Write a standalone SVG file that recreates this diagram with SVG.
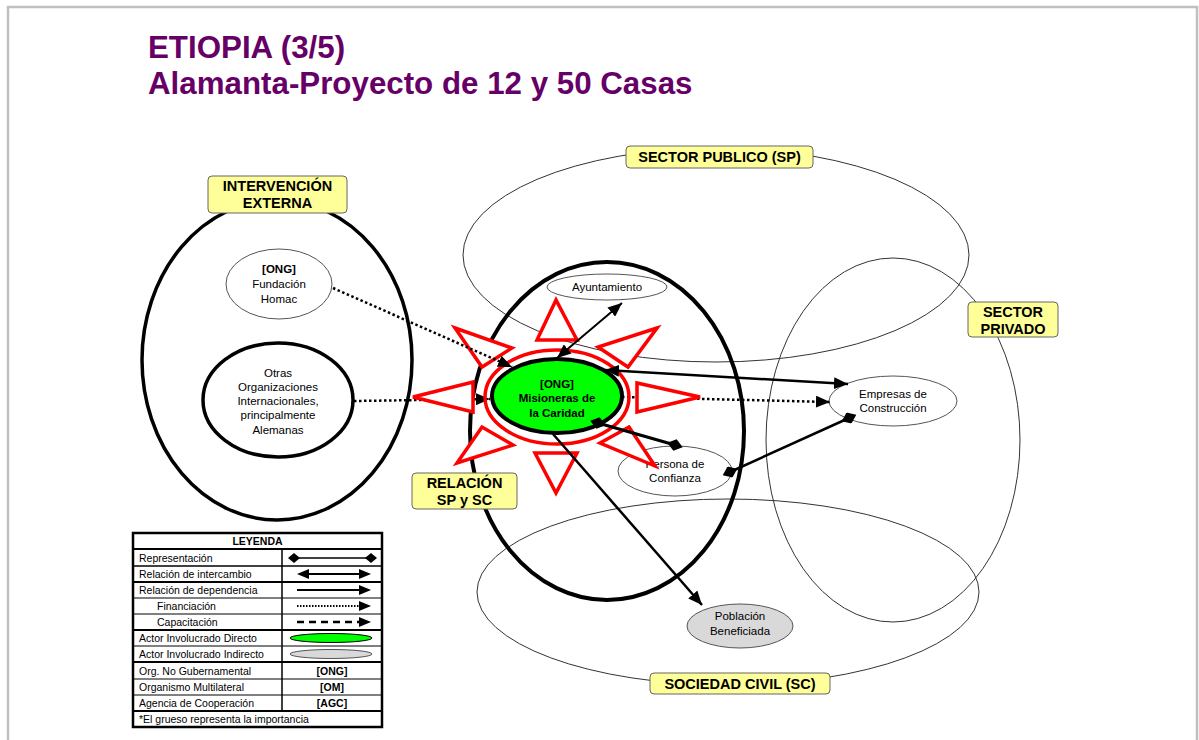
<svg xmlns="http://www.w3.org/2000/svg" width="1199" height="740" viewBox="0 0 1199 740">
<style>
.t{font-family:"Liberation Sans",Arial,sans-serif;fill:#000}
.lbl{font-family:"Liberation Sans",Arial,sans-serif;font-weight:bold;font-size:14.5px;text-anchor:middle;fill:#000}
.nt{font-family:"Liberation Sans",Arial,sans-serif;font-size:11.5px;text-anchor:middle;fill:#000}
.lg{font-family:"Liberation Sans",Arial,sans-serif;font-size:10.5px;fill:#000}
.box{fill:#ffff99;stroke:#666;stroke-width:1}
.thin{fill:none;stroke:#333;stroke-width:1}
.thick{fill:none;stroke:#000;stroke-width:4}
.node{fill:#fff;stroke:#555;stroke-width:1}
.ray{fill:#fff;stroke:#f00;stroke-width:3.5;stroke-linejoin:miter}
.dot{fill:none;stroke:#000;stroke-width:2.5;stroke-dasharray:2.5 2.5}
.sol{fill:none;stroke:#000;stroke-width:2.5}
</style>
<defs>
<marker id="arr" markerUnits="userSpaceOnUse" markerWidth="14" markerHeight="12" refX="14" refY="6" orient="auto-start-reverse"><path d="M0,0 L14,6 L0,12 z" fill="#000"/></marker>
<marker id="dia" markerUnits="userSpaceOnUse" markerWidth="16" markerHeight="12" refX="8" refY="6" orient="auto"><path d="M0,6 L8,0 L16,6 L8,12 z" fill="#000"/></marker>
</defs>
<rect x="0" y="0" width="1199" height="740" fill="#fff"/>
<path d="M8,760 V7 H1197 V760" fill="none" stroke="#c0c0c0" stroke-width="2.5"/>
<g id="title">
<text class="t" x="148" y="58" font-size="31.3" font-weight="bold" style="fill:#660066">ETIOPIA (3/5)</text>
<text class="t" x="148" y="94" font-size="31.3" font-weight="bold" style="fill:#660066">Alamanta-Proyecto de 12 y 50 Casas</text>
</g>
<g id="sectors">
<ellipse class="thin" cx="716" cy="255" rx="253" ry="107"/>
<ellipse class="thin" cx="893" cy="440" rx="127" ry="182"/>
<ellipse class="thin" cx="728" cy="592" rx="251" ry="93"/>
<ellipse class="thick" cx="607" cy="431" rx="137" ry="169"/>
<ellipse class="thick" cx="277" cy="360" rx="135" ry="160" style="stroke-width:3.5"/>
</g>
<g id="nodes">
<g id="fundacion"><ellipse class="node" cx="279" cy="284" rx="53" ry="35"/><text class="nt" x="279" y="273" font-weight="bold">[ONG]</text><text class="nt" x="279" y="288">Fundación</text><text class="nt" x="279" y="303">Homac</text></g>
<g id="otras"><ellipse cx="278" cy="400" rx="75" ry="57" fill="#fff" stroke="#000" stroke-width="3.5"/><text class="nt" x="278" y="377">Otras</text><text class="nt" x="278" y="391">Organizaciones</text><text class="nt" x="278" y="405">Internacionales,</text><text class="nt" x="278" y="419">principalmente</text><text class="nt" x="278" y="434">Alemanas</text></g>
<g id="ayuntamiento"><ellipse class="node" cx="607" cy="287" rx="60" ry="13"/><text class="nt" x="607" y="291">Ayuntamiento</text></g>
<g id="empresas"><ellipse class="node" cx="893" cy="401" rx="64" ry="25"/><text class="nt" x="893" y="398">Empresas de</text><text class="nt" x="893" y="412">Construcción</text></g>
<g id="persona"><ellipse class="node" cx="675" cy="471" rx="57" ry="25"/><text class="nt" x="675" y="468">Persona de</text><text class="nt" x="675" y="482">Confianza</text></g>
<g id="poblacion"><ellipse cx="740" cy="626" rx="53" ry="22" fill="#d9d9d9" stroke="#555" stroke-width="1"/><text class="nt" x="740" y="620">Población</text><text class="nt" x="740" y="635">Beneficiada</text></g>
</g>
<g id="labels">
<g id="lbl-ie"><rect class="box" x="208" y="176" width="139" height="37" rx="4"/><text class="lbl" x="277.5" y="191">INTERVENCIÓN</text><text class="lbl" x="277.5" y="208">EXTERNA</text></g>
<g id="lbl-sp"><rect class="box" x="626" y="146" width="187" height="22" rx="4"/><text class="lbl" x="719.5" y="162">SECTOR PUBLICO (SP)</text></g>
<g id="lbl-spr"><rect class="box" x="968" y="302" width="90" height="35" rx="4"/><text class="lbl" x="1013" y="317">SECTOR</text><text class="lbl" x="1013" y="334">PRIVADO</text></g>
<g id="lbl-rel"><rect class="box" x="412" y="473" width="105" height="36" rx="4"/><text class="lbl" x="464.5" y="488">RELACIÓN</text><text class="lbl" x="464.5" y="505">SP y SC</text></g>
<g id="lbl-sc"><rect class="box" x="650" y="673" width="180" height="21" rx="4"/><text class="lbl" x="740" y="689">SOCIEDAD CIVIL (SC)</text></g>
</g>
<g id="connectors-dotted">
<line class="dot" x1="354" y1="401" x2="490" y2="399" marker-end="url(#arr)"/>
<line class="dot" x1="622" y1="397" x2="830" y2="402" marker-end="url(#arr)"/>
</g>
<g id="misioneras">
<polygon class="ray" points="556,300 537,340 577,340"/>
<polygon class="ray" points="556,493 535,453 577,453"/>
<polygon class="ray" points="413,397 473,382 473,412"/>
<polygon class="ray" points="700,397 637,383 637,412"/>
<polygon class="ray" points="455,328 512,348 482,367"/>
<polygon class="ray" points="657,328 598,347 628,367"/>
<polygon class="ray" points="457,463 482,427 513,445"/>
<polygon class="ray" points="655,466 600,443 629,427"/>
<ellipse cx="557" cy="397" rx="72" ry="47" fill="none" stroke="#f00" stroke-width="3.5"/>
<ellipse cx="557" cy="396" rx="65" ry="37" fill="#00ff00" stroke="#000" stroke-width="4"/>
<text class="nt" x="557" y="388" font-weight="bold">[ONG]</text>
<text class="nt" x="557" y="402" font-weight="bold">Misioneras de</text>
<text class="nt" x="557" y="417" font-weight="bold">la Caridad</text>
</g>
<g id="connectors">
<line class="dot" x1="333" y1="288" x2="512" y2="367" marker-end="url(#arr)"/>
<line class="sol" x1="557" y1="358" x2="622" y2="303" marker-start="url(#arr)" marker-end="url(#arr)" style="stroke-width:2"/>
<line class="sol" x1="605" y1="370" x2="848" y2="384" marker-start="url(#arr)" marker-end="url(#arr)"/>
<line class="sol" x1="598" y1="423" x2="675" y2="445" marker-start="url(#dia)" marker-end="url(#dia)" style="stroke-width:3"/>
<line class="sol" x1="730" y1="472" x2="849" y2="418" marker-start="url(#dia)" marker-end="url(#dia)"/>
<line class="sol" x1="553" y1="434" x2="702" y2="605" marker-end="url(#arr)"/>
</g>
<g id="legend">
<rect x="133" y="533" width="249" height="194" fill="#fff" stroke="#000" stroke-width="2.5"/>
<g stroke="#000">
<line x1="133" y1="549" x2="382" y2="549" stroke-width="2"/>
<line x1="133" y1="566" x2="382" y2="566" stroke-width="1.5"/>
<line x1="133" y1="582" x2="382" y2="582" stroke-width="2"/>
<line x1="133" y1="598" x2="382" y2="598" stroke-width="1"/>
<line x1="133" y1="614" x2="382" y2="614" stroke-width="1"/>
<line x1="133" y1="630" x2="382" y2="630" stroke-width="2"/>
<line x1="133" y1="646" x2="382" y2="646" stroke-width="1"/>
<line x1="133" y1="662" x2="382" y2="662" stroke-width="2"/>
<line x1="133" y1="679" x2="382" y2="679" stroke-width="1"/>
<line x1="133" y1="695" x2="382" y2="695" stroke-width="1"/>
<line x1="133" y1="711" x2="382" y2="711" stroke-width="2"/>
<line x1="282" y1="549" x2="282" y2="711" stroke-width="1.5"/>
</g>
<text class="lg" x="257.5" y="545" text-anchor="middle" font-weight="bold">LEYENDA</text>
<text class="lg" x="139" y="562">Representación</text>
<text class="lg" x="139" y="578">Relación de intercambio</text>
<text class="lg" x="139" y="594">Relación de dependencia</text>
<text class="lg" x="157" y="610">Financiación</text>
<text class="lg" x="157" y="626">Capacitación</text>
<text class="lg" x="139" y="642">Actor Involucrado Directo</text>
<text class="lg" x="139" y="658">Actor Involucrado Indirecto</text>
<text class="lg" x="139" y="675">Org. No Gubernamental</text>
<text class="lg" x="139" y="691">Organismo Multilateral</text>
<text class="lg" x="139" y="707">Agencia de Cooperación</text>
<text class="lg" x="139" y="723">*El grueso representa la importancia</text>
<text class="lg" x="332" y="675" text-anchor="middle" font-weight="bold">[ONG]</text>
<text class="lg" x="332" y="691" text-anchor="middle" font-weight="bold">[OM]</text>
<text class="lg" x="332" y="707" text-anchor="middle" font-weight="bold">[AGC]</text>
<line x1="295" y1="558" x2="370" y2="558" stroke="#000" stroke-width="1.5"/>
<polygon points="288,558 294,553 300,558 294,563" fill="#000"/>
<polygon points="365,558 371,553 377,558 371,563" fill="#000"/>
<line x1="305" y1="574" x2="362" y2="574" stroke="#000" stroke-width="2"/>
<polygon points="297,574 309,569 309,579" fill="#000"/>
<polygon points="371,574 359,569 359,579" fill="#000"/>
<line x1="297" y1="590" x2="362" y2="590" stroke="#000" stroke-width="2"/>
<polygon points="371,590 359,585 359,595" fill="#000"/>
<line x1="297" y1="606" x2="361" y2="606" stroke="#000" stroke-width="2" stroke-dasharray="1.5 1.5"/>
<polygon points="371,606 359,601 359,611" fill="#000"/>
<line x1="297" y1="622" x2="361" y2="622" stroke="#000" stroke-width="2.5" stroke-dasharray="7 5"/>
<polygon points="371,622 359,617 359,627" fill="#000"/>
<ellipse cx="331" cy="638" rx="41" ry="4.5" fill="#00ff00" stroke="#000" stroke-width="1"/>
<ellipse cx="331" cy="654" rx="41" ry="4.5" fill="#d9d9d9" stroke="#555" stroke-width="1"/>
</g>
</svg>
